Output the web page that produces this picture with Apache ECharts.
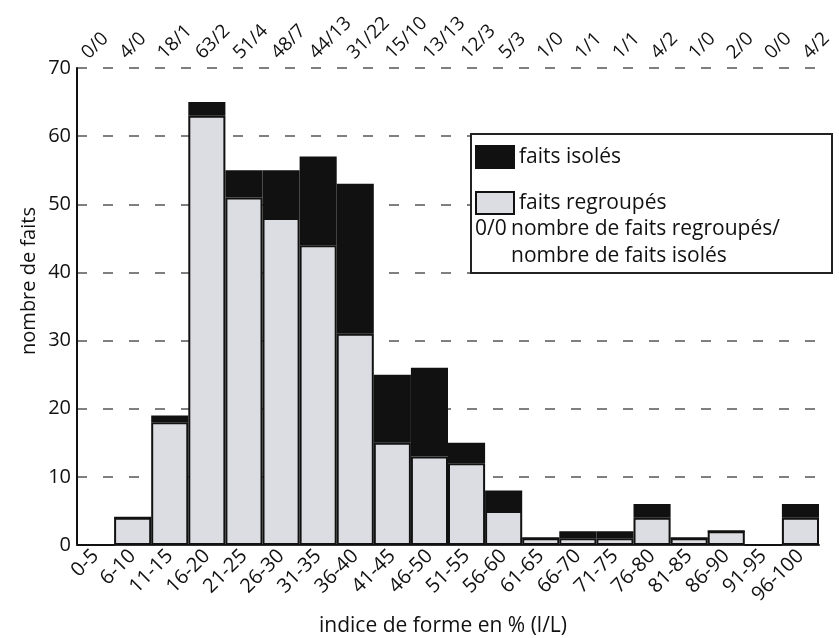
<!DOCTYPE html>
<html>
<head>
<meta charset="utf-8">
<script src="https://cdn.jsdelivr.net/npm/echarts@6/dist/echarts.min.js"></script>
<style>
html,body{margin:0;padding:0;background:#fff;}
#c{width:839px;height:638px;}
</style>
</head>
<body>
<div id="c"></div>
<script>
var categories = ['0-5','6-10','11-15','16-20','21-25','26-30','31-35','36-40','41-45','46-50','51-55','56-60','61-65','66-70','71-75','76-80','81-85','86-90','91-95','96-100'];
var regroupes = [0,4,18,63,51,48,44,31,15,13,12,5,1,1,1,4,1,2,0,4];
var isoles = [0,0,1,2,4,7,13,22,10,13,3,3,0,1,1,2,0,0,0,2];
var topLabels = ['0/0','4/0','18/1','63/2','51/4','48/7','44/13','31/22','15/10','13/13','12/3','5/3','1/0','1/1','1/1','4/2','1/0','2/0','0/0','4/2'];
var yTicks = [0,10,20,30,40,50,60,70];

var FONT = '"Open Sans", "Noto Sans", sans-serif';
var chart = echarts.init(document.getElementById('c'), null, {renderer:'canvas'});
chart.setOption({
  animation:false,
  backgroundColor:'#fff',
  textStyle:{fontFamily:FONT,color:'#111'},
  grid:[
    {left:77,right:20,top:68,bottom:93},
    {left:66,right:14,top:68,bottom:93}
  ],
  legend:{
    orient:'vertical', left:470, top:140,
    itemWidth:38, itemHeight:22, itemGap:22,
    icon:'rect',
    data:['faits isolés','faits regroupés'],
    textStyle:{fontFamily:FONT,fontSize:21,color:'#111'},
    selectedMode:false
  },
  xAxis:[{
    type:'category', data:categories, position:'bottom', gridIndex:0,
    axisLine:{lineStyle:{color:'#333',width:2}},
    axisTick:{show:false},
    axisLabel:{rotate:45,fontFamily:FONT,fontSize:20,color:'#111',margin:8,interval:0}
  },{
    type:'category', data:topLabels, position:'top', gridIndex:1,
    axisLine:{show:false}, axisTick:{show:false},
    axisLabel:{rotate:45,fontFamily:FONT,fontSize:19,color:'#111',margin:12,interval:0}
  }],
  yAxis:[{
    type:'value', gridIndex:0, min:yTicks[0], max:yTicks[yTicks.length-1], interval:10,
    axisLine:{show:true,lineStyle:{color:'#111',width:2}},
    axisTick:{show:false},
    axisLabel:{fontFamily:FONT,fontSize:20,color:'#111',margin:6},
    splitLine:{show:true,lineStyle:{color:'#555',width:1.5,type:[10,16]}}
  },{
    type:'value', gridIndex:1, min:0, max:70, show:false
  }],
  series:[{
    name:'faits regroupés', type:'bar', stack:'t', data:regroupes,
    barCategoryGap:'0%', xAxisIndex:0, yAxisIndex:0,
    itemStyle:{color:'#dcdce3',borderColor:'#111',borderWidth:2}
  },{
    name:'faits isolés', type:'bar', stack:'t', data:isoles,
    barCategoryGap:'0%', xAxisIndex:0, yAxisIndex:0,
    itemStyle:{color:'#111',borderColor:'#111',borderWidth:2}
  }],
  graphic:[
    {type:'rect', z:3, shape:{x:471,y:134,width:361,height:139}, style:{fill:'#fff',stroke:'#222',lineWidth:2}},
    {type:'text', z:10, x:475, y:229, style:{text:'0/0',font:'21px '+FONT,fill:'#111',verticalAlign:'middle'}},
    {type:'text', z:10, x:511, y:229, style:{text:'nombre de faits regroupés/',font:'21px '+FONT,fill:'#111',verticalAlign:'middle'}},
    {type:'text', z:10, x:511, y:256, style:{text:'nombre de faits isolés',font:'21px '+FONT,fill:'#111',verticalAlign:'middle'}},
    {type:'text', x:29, y:281, rotation:Math.PI/2, style:{text:'nombre de faits',font:'20px '+FONT,fill:'#111',align:'center',verticalAlign:'middle'}},
    {type:'text', x:443, y:626, style:{text:'indice de forme en % (l/L)',font:'21px '+FONT,fill:'#111',align:'center',verticalAlign:'middle'}}
  ]
});
</script>
</body>
</html>
